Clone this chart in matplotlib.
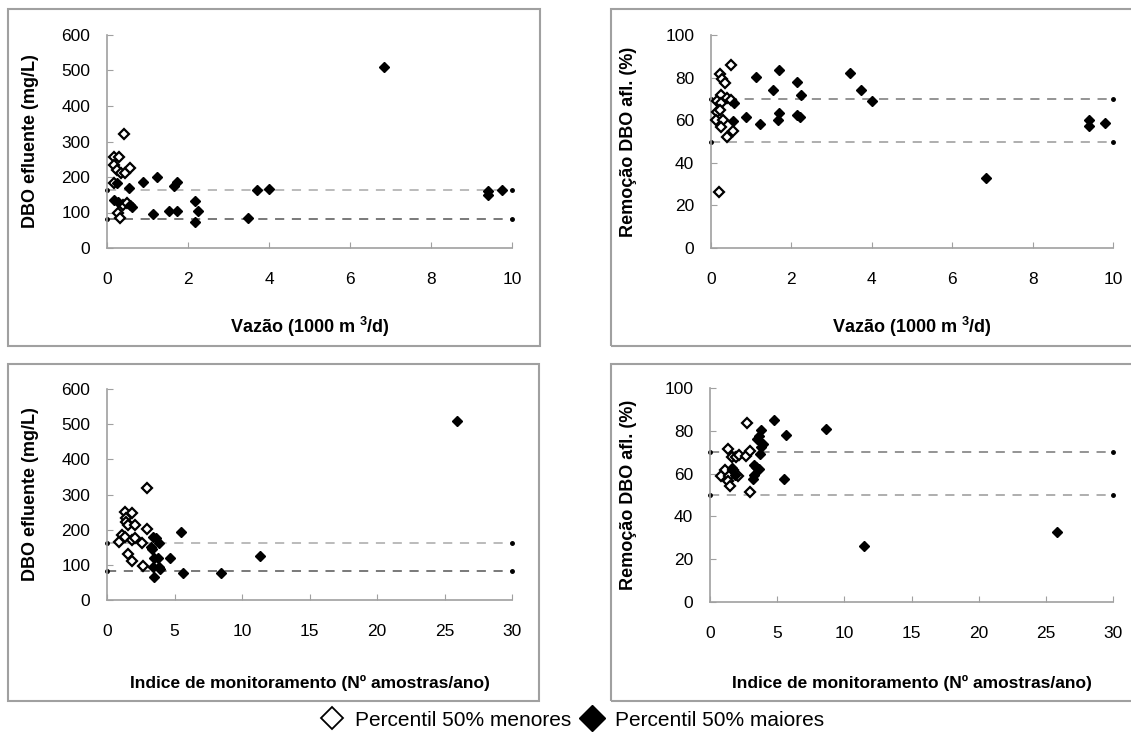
import matplotlib
matplotlib.use("Agg")
import matplotlib.pyplot as plt
from matplotlib.patches import Rectangle

plt.rcParams['font.family'] = ['Liberation Sans', 'DejaVu Sans']
plt.rcParams['mathtext.fontset'] = 'custom'
plt.rcParams['mathtext.rm'] = 'Liberation Sans'
plt.rcParams['mathtext.bf'] = 'Liberation Sans:bold'

# Vazão x DBO efluente
vaz_dbo_men_x = [0.42, 0.17, 0.30, 0.17, 0.25, 0.34, 0.44, 0.57, 0.17, 0.39, 0.27, 0.32, 0.50]
vaz_dbo_men_y = [321, 256, 256, 233, 219, 211, 211, 225, 183, 121, 98, 84, 128]
vaz_dbo_mai_x = [0.25, 0.17, 0.27, 0.57, 0.61, 0.54, 0.88, 1.23, 1.13, 1.52, 1.72, 1.66, 1.72,
                 2.18, 2.24, 2.18, 3.47, 3.71, 4.00, 6.85, 9.40, 9.40, 9.75]
vaz_dbo_mai_y = [183, 135, 129, 121, 115, 169, 186, 200, 96, 105, 105, 176, 186,
                 131, 105, 72, 84, 162, 166, 510, 160, 150, 162]

# Vazão x Remoção DBO
vaz_rem_men_x = [0.49, 0.22, 0.28, 0.36, 0.24, 0.14, 0.24, 0.39, 0.49, 0.14, 0.22, 0.12, 0.31,
                 0.26, 0.54, 0.41, 0.21]
vaz_rem_men_y = [86, 81.5, 79.4, 77.3, 71.9, 68.8, 68, 70.6, 69.5, 64, 64.8, 60, 60,
                 57, 55, 52, 26.5]
vaz_rem_mai_x = [0.57, 0.54, 0.87, 1.12, 1.23, 1.53, 1.70, 1.66, 1.70, 2.14, 2.25, 2.14, 2.21,
                 3.45, 3.72, 4.00, 6.85, 9.40, 9.40, 9.80]
vaz_rem_mai_y = [68, 59.4, 61.7, 80.5, 58.3, 74.2, 83.6, 60.2, 63.3, 78.1, 71.6, 62.5, 61.4,
                 82, 74.2, 69.2, 33, 60, 57.5, 58.5]

# Índice de monitoramento x DBO efluente
ind_dbo_men_x = [2.99, 1.31, 1.85, 1.43, 1.43, 1.56, 2.10, 2.96, 1.11, 1.36, 1.85, 2.10, 0.86,
                 2.59, 1.56, 1.85, 2.67]
ind_dbo_men_y = [318, 251, 247, 232, 223, 214, 212, 202, 185, 180, 171, 176, 164,
                 161, 131, 112, 98]
ind_dbo_mai_x = [3.23, 3.41, 3.65, 3.85, 3.30, 3.48, 3.78, 3.41, 3.85, 3.90, 3.48, 4.69, 5.46,
                 5.60, 8.47, 11.36, 25.9]
ind_dbo_mai_y = [152, 180, 176, 161, 145, 119, 120, 95, 95, 87, 64, 120, 193,
                 78, 78, 126, 510]

# Índice de monitoramento x Remoção DBO
ind_rem_men_x = [2.73, 1.36, 1.61, 1.94, 2.18, 2.65, 2.98, 1.12, 0.82, 1.41, 1.36, 1.49, 2.11,
                 1.74, 2.98]
ind_rem_men_y = [83.6, 71.7, 67.6, 67.8, 68.5, 68.4, 70.4, 61.8, 59, 58.7, 56.4, 54.4, 59,
                 61.8, 51.2]
ind_rem_mai_x = [1.66, 1.86, 4.76, 3.80, 3.67, 3.52, 3.92, 3.77, 3.72, 3.27, 3.42, 3.65, 3.27,
                 3.23, 5.66, 5.51, 8.61, 11.49, 25.8]
ind_rem_mai_y = [62.6, 59.5, 84.9, 80.2, 77.4, 76.3, 74, 72.4, 69.3, 64.2, 63.1, 62.1, 59.5,
                 57.5, 77.9, 57.5, 81, 26, 32.5]

# linhas de referência (percentis)
ref_dbo = [163, 83]
ref_rem = [70, 50]

W, H = 1131, 740
fig = plt.figure(figsize=(W / 100, H / 100), dpi=100)

# molduras cinzas de cada gráfico (estilo Excel)
for (x0, y0, x1, y1) in [(8, 9, 540, 346), (611, 9, 1140, 346),
                         (8, 364, 539, 701), (611, 364, 1140, 701)]:
    fig.add_artist(Rectangle((x0 / W, 1 - y1 / H), (x1 - x0) / W, (y1 - y0) / H,
                             transform=fig.transFigure, fill=False,
                             edgecolor='#a0a0a0', linewidth=1.5))


def painel(rect, mx, my, fx, fy, refs, xmax, xstep, ymax, ystep, xlabel, ylabel,
           ref_cores, xlab_y, ylab_x, xlab_size):
    ax = fig.add_axes(rect)
    for r, c in zip(refs, ref_cores):
        ax.plot([0, xmax], [r, r], linestyle=(0, (6, 5)), color=c, linewidth=1.1,
                marker='o', markersize=2.5, markerfacecolor='black', markeredgecolor='black',
                clip_on=False, zorder=1)
    ax.plot(mx, my, linestyle='none', marker='D', markersize=5, markerfacecolor='white',
            markeredgecolor='black', markeredgewidth=1.6, clip_on=False, zorder=3)
    ax.plot(fx, fy, linestyle='none', marker='D', markersize=5.6, markerfacecolor='black',
            markeredgecolor='black', clip_on=False, zorder=4)
    ax.set_xlim(0, xmax)
    ax.set_ylim(0, ymax)
    ax.set_xticks(range(0, xmax + 1, xstep))
    ax.set_yticks(range(0, ymax + 1, ystep))
    for s in ['top', 'right']:
        ax.spines[s].set_visible(False)
    for s in ['left', 'bottom']:
        ax.spines[s].set_color('#a0a0a0')
        ax.spines[s].set_linewidth(1.2)
    ax.tick_params(axis='y', direction='in', length=4, color='#a0a0a0', labelsize=12.5, pad=12)
    ax.tick_params(axis='x', direction='in', length=4, color='#a0a0a0', labelsize=12.5, pad=17)
    ax.set_xlabel(xlabel, fontsize=xlab_size, fontweight='bold', va='center')
    ax.set_ylabel(ylabel, fontsize=13, fontweight='bold', va='center')
    ax.xaxis.set_label_coords(0.5, xlab_y)
    ax.yaxis.set_label_coords(ylab_x, 0.5)
    return ax


lbl_vaz = r'Vazão (1000 m $^{\mathbf{3}}$/d)'
lbl_ind = 'Indice de monitoramento (Nº amostras/ano)'
lbl_dbo = 'DBO efluente (mg/L)'
lbl_rem = 'Remoção DBO afl. (%)'

painel([107 / W, 1 - 248 / H, 405 / W, 213 / H], vaz_dbo_men_x, vaz_dbo_men_y,
       vaz_dbo_mai_x, vaz_dbo_mai_y, ref_dbo, 10, 2, 600, 100, lbl_vaz, lbl_dbo,
       ['#a8a8a8', '#555555'], -0.37, -0.19, 13)
painel([711 / W, 1 - 248 / H, 402 / W, 213 / H], vaz_rem_men_x, vaz_rem_men_y,
       vaz_rem_mai_x, vaz_rem_mai_y, ref_rem, 10, 2, 100, 20, lbl_vaz, lbl_rem,
       ['#777777', '#999999'], -0.37, -0.206, 13)
painel([107 / W, 1 - 600 / H, 405 / W, 211 / H], ind_dbo_men_x, ind_dbo_men_y,
       ind_dbo_mai_x, ind_dbo_mai_y, ref_dbo, 30, 5, 600, 100, lbl_ind, lbl_dbo,
       ['#a8a8a8', '#555555'], -0.393, -0.19, 12.5)
painel([710 / W, 1 - 602 / H, 403 / W, 214 / H], ind_rem_men_x, ind_rem_men_y,
       ind_rem_mai_x, ind_rem_mai_y, ref_rem, 30, 5, 100, 20, lbl_ind, lbl_rem,
       ['#777777', '#999999'], -0.378, -0.203, 12.5)

# legenda comum
h1, = plt.plot([], [], linestyle='none', marker='D', markersize=11.5, markerfacecolor='white',
               markeredgecolor='black', markeredgewidth=1.3)
h2, = plt.plot([], [], linestyle='none', marker='D', markersize=13, markerfacecolor='black',
               markeredgecolor='black')
fig.legend([h1, h2], ['Percentil 50% menores', 'Percentil 50% maiores'],
           loc='center', bbox_to_anchor=(572 / W, 1 - 720 / H), ncol=2, frameon=False,
           fontsize=15, handlelength=1.2, handletextpad=0.5, columnspacing=0.4)

fig.savefig('out.png', dpi=100)
